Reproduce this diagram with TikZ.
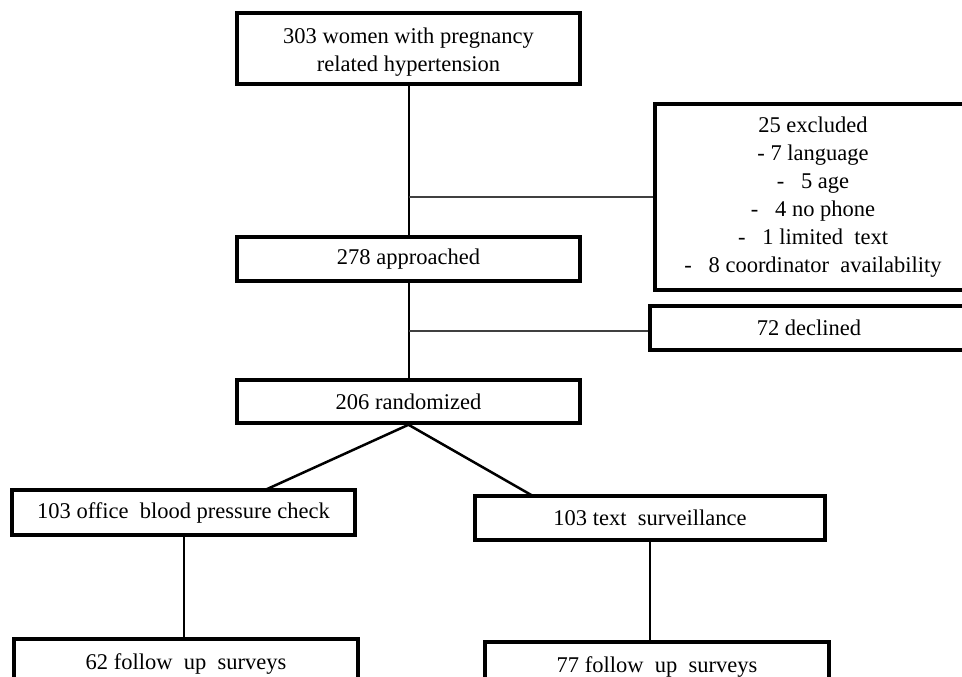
\documentclass[tikz,border=0pt]{standalone}
\usepackage{fontspec}
\setmainfont{Liberation Serif}
\begin{document}
\begin{tikzpicture}[x=1pt,y=-1pt,
  box/.style={draw, line width=3.5pt, rectangle, inner sep=0pt, align=center,
    font=\fontsize{22.5}{28}\selectfont},
  conn/.style={line width=2pt},
  thin/.style={line width=1.3pt, draw=black!75}]
\useasboundingbox (0,0) rectangle (962,677);
\clip (0,0) rectangle (962,677);
\node[box, minimum width=343pt, minimum height=71pt] (top) at (408.5,48.5) {};
\node[align=center, font=\fontsize{22.5}{28}\selectfont, inner sep=0pt] (toptext) at (408.5,52)
  {303 women with pregnancy\\related hypertension};
\node[box, minimum width=343pt, minimum height=44pt] (appr) at (408.5,259) {278 approached};
\node[box, minimum width=343pt, minimum height=43pt] (rand) at (408.5,401.5) {206 randomized};
\node[box, minimum width=316pt, minimum height=186pt] (excl) at (813,197)
  {25 excluded\\- 7 language\\-\ \ \ 5 age\\-\ \ \ 4 no phone\\-\ \ \ 1 limited\ \ text\\-\ \ \ 8 coordinator\ \ availability};
\node[box, minimum width=318pt, minimum height=44pt] (decl) at (809,328) {72 declined};
\node[box, minimum width=343pt, minimum height=45pt] (office) at (183.5,512.5) {103 office\ \ blood pressure check};
\node[box, minimum width=350pt, minimum height=44pt] (text) at (650,518) {103 text\ \ surveillance};
\node[box, minimum width=344pt, minimum height=50pt, anchor=north] (fu1) at (186,637) {62 follow\ \ up\ \ surveys};
\node[box, minimum width=344pt, minimum height=50pt, anchor=north] (fu2) at (657,640) {77 follow\ \ up\ \ surveys};
\coordinate (b1) at (408.5,197);
\coordinate (b2) at (408.5,331);
\coordinate (oj) at (265,490);
\coordinate (tj) at (533,496);
\draw[conn] (top.south) -- (appr.north);
\draw[conn] (appr.south) -- (rand.north);
\draw[thin] (b1) -- (excl.west);
\draw[thin] (b2) -- (b2 -| decl.west);
\draw[line width=2.5pt] (rand.south) -- (oj);
\draw[line width=2.5pt] (rand.south) -- (tj);
\draw[conn] (office.south) -- (office.south |- fu1.north);
\draw[conn] (text.south) -- (text.south |- fu2.north);
\end{tikzpicture}
\end{document}
